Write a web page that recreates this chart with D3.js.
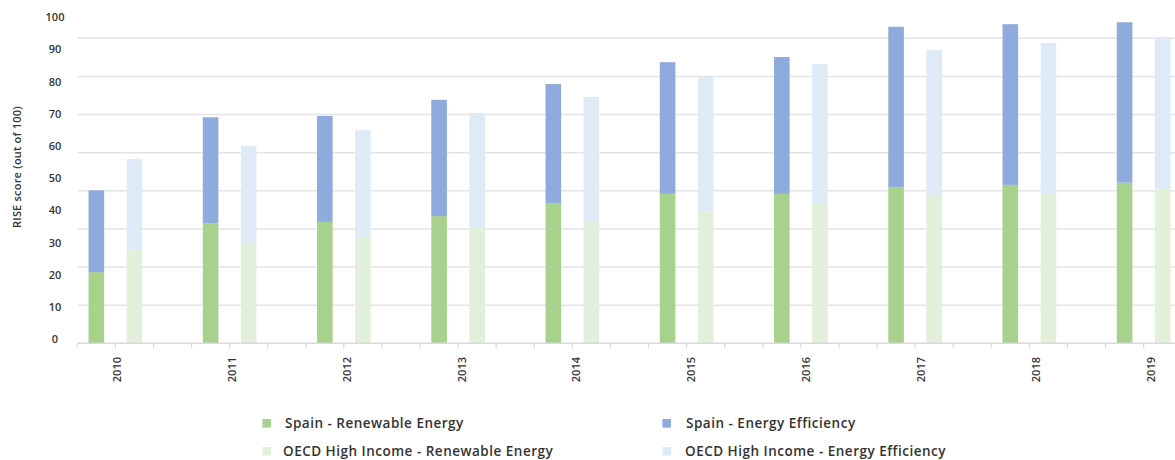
<!DOCTYPE html>
<html>
<head>
<meta charset="utf-8">
<script src="https://cdn.jsdelivr.net/npm/d3@7"></script>
<style>
  html, body { margin: 0; padding: 0; background: #fff; }
  svg { display: block; font-family: "Open Sans", Lato, sans-serif; }
</style>
</head>
<body>
<svg id="chart" width="1175" height="460"></svg>
<script>
// ---- data ----
const years = ["2010","2011","2012","2013","2014","2015","2016","2017","2018","2019"];
const spainRenewable   = [22.1, 37.3, 37.7, 39.5, 43.6, 46.4, 46.4, 48.4, 49.2, 49.9];
const spainEfficiency  = [25.4, 32.9, 32.9, 36.1, 36.9, 40.9, 42.5, 49.9, 49.9, 49.8];
const oecdRenewable    = [29.2, 30.8, 32.9, 35.8, 37.7, 40.9, 43.3, 45.7, 46.7, 47.8];
const oecdEfficiency   = [28.0, 30.5, 33.3, 35.7, 38.8, 41.8, 43.4, 45.4, 46.6, 47.3];
const yTickLabels = [0, 10, 20, 30, 40, 50, 60, 70, 80, 90, 100];
const gridValues  = [11.84, 23.68, 35.52, 47.36, 59.2, 71.04, 82.88, 94.72];
const seriesNames = ["Spain - Renewable Energy", "Spain - Energy Efficiency",
                     "OECD High Income - Renewable Energy", "OECD High Income - Energy Efficiency"];
const colors = ["#a9d18e", "#8faadc", "#e2efda", "#deebf7"];

// ---- layout ----
const svg = d3.select("#chart");
const left = 77.3, step = 114.25, baseY = 343.3;
const x0 = d3.scaleBand().domain(years).range([left, left + step * years.length]).padding(0);
const x1 = d3.scaleBand().domain(["spain", "oecd", "gap"]).range([0, x0.bandwidth()]).padding(0);
const barW = x1.bandwidth() * 0.41;
const y = d3.scaleLinear().domain([0, 100]).range([baseY, baseY - 322]);
const xLabel = d3.scalePoint().domain(years).range([117, 1151]);

// gridlines
svg.append("g").selectAll("line").data(gridValues).join("line")
  .attr("x1", left).attr("x2", 1175)
  .attr("y1", d => y(d)).attr("y2", d => y(d))
  .attr("stroke", "#e4e4e4").attr("stroke-width", 1.5);

// y tick labels
svg.append("g").selectAll("text").data(yTickLabels).join("text")
  .attr("x", 55).attr("y", d => y(d) - 4).attr("dy", "0.35em")
  .attr("text-anchor", "middle")
  .attr("font-size", 11).attr("font-weight", 600).attr("fill", "#333")
  .text(d => d);

// y title
svg.append("text")
  .attr("transform", "translate(17,167) rotate(-90)")
  .attr("text-anchor", "middle").attr("dy", "0.35em")
  .attr("font-size", 11).attr("font-weight", 600).attr("fill", "#333")
  .attr("letter-spacing", 0.2)
  .text("RISE score (out of 100)");

// bars
const groups = svg.append("g").selectAll("g").data(years).join("g")
  .attr("transform", d => `translate(${x0(d)},0)`);
const stacks = [
  { key: "spain", parts: [spainRenewable, spainEfficiency], cols: [colors[0], colors[1]] },
  { key: "oecd",  parts: [oecdRenewable, oecdEfficiency],  cols: [colors[2], colors[3]] }
];
groups.each(function(yr, i) {
  const g = d3.select(this);
  stacks.forEach(s => {
    let base = 0;
    s.parts.forEach((arr, k) => {
      const v = arr[i];
      g.append("rect")
        .attr("x", x1(s.key) + (x1.bandwidth() - barW) / 2)
        .attr("width", barW)
        .attr("y", y(base + v))
        .attr("height", y(base) - y(base + v))
        .attr("fill", s.cols[k]);
      base += v;
    });
  });
});

// x axis line and ticks
svg.append("line").attr("x1", left).attr("x2", 1175)
  .attr("y1", baseY).attr("y2", baseY)
  .attr("stroke", "#d9d9d9").attr("stroke-width", 1.5);
const tickXs = [];
years.forEach(yr => ["spain", "oecd", "gap"].forEach(k => tickXs.push(x0(yr) + x1(k))));
svg.append("g").selectAll("line").data(tickXs.filter(t => t < 1175)).join("line")
  .attr("x1", d => d).attr("x2", d => d)
  .attr("y1", baseY).attr("y2", baseY + 5)
  .attr("stroke", "#d9d9d9").attr("stroke-width", 1.2);

// x labels
svg.append("g").selectAll("text").data(years).join("text")
  .attr("transform", d => `translate(${xLabel(d)},357) rotate(-90)`)
  .attr("text-anchor", "end").attr("dy", "0.35em")
  .attr("font-size", 11).attr("font-weight", 600).attr("fill", "#333")
  .text(d => d);

// legend
const legendPos = [[262.4, 419], [662.4, 419], [262.4, 447], [662.4, 447]];
const textX = [285, 686, 283, 685];
const lg = svg.append("g").selectAll("g").data(seriesNames).join("g");
lg.append("rect")
  .attr("x", (d, i) => legendPos[i][0]).attr("y", (d, i) => legendPos[i][1])
  .attr("width", 8.6).attr("height", 8.6)
  .attr("fill", (d, i) => colors[i]);
lg.append("text")
  .attr("x", (d, i) => textX[i]).attr("y", (d, i) => legendPos[i][1] + 4.3)
  .attr("dy", "0.35em")
  .attr("font-size", 13.5).attr("font-weight", 600).attr("fill", "#333")
  .attr("letter-spacing", 0.5)
  .text(d => d);
</script>
</body>
</html>
